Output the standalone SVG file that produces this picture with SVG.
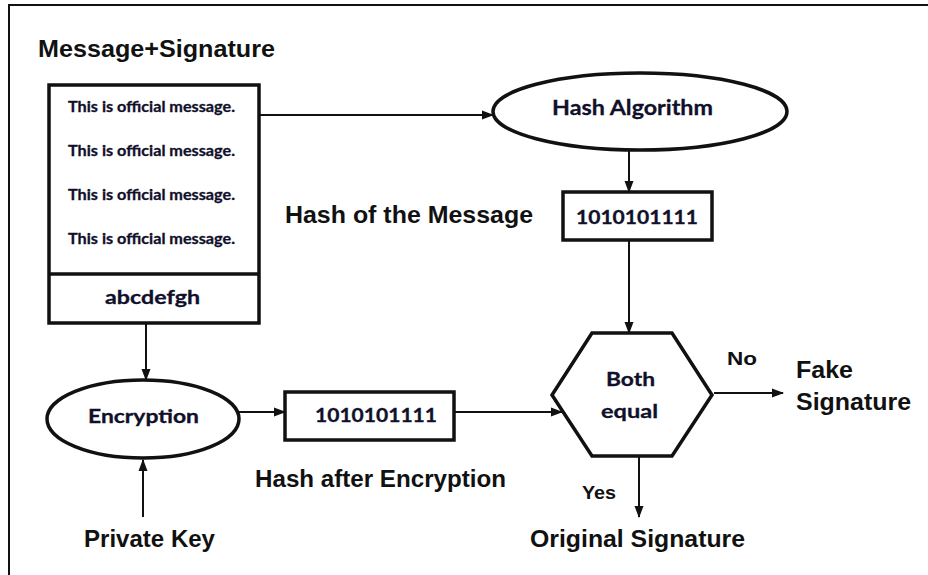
<svg xmlns="http://www.w3.org/2000/svg" width="928" height="575" viewBox="0 0 928 575">
  <style>
    .frame { fill: none; stroke: #111; stroke-width: 2; }
    .shape { fill: #fff; stroke: #111; stroke-width: 3.5; }
    .conn { fill: none; stroke: #111; stroke-width: 2; }
    .cal { font-family: Lato, "Open Sans", sans-serif; font-weight: bold; fill: #10102a; stroke: #10102a; stroke-width: 0.3; }
    .ari { font-family: "Liberation Sans", Arial, sans-serif; font-weight: bold; fill: #111; }
  </style>
  <defs>
    <marker id="arrow" markerUnits="userSpaceOnUse" markerWidth="12" markerHeight="10" refX="11" refY="5" orient="auto">
      <path d="M0,0.5 L12,5 L0,9.5 Z" fill="#111"/>
    </marker>
  </defs>

  <rect width="928" height="575" fill="#fff"/>
  <path class="frame" d="M9,575 V5 H928"/>

  <text class="ari" x="38" y="57" font-size="24" textLength="237" lengthAdjust="spacingAndGlyphs">Message+Signature</text>

  <g id="message">
    <rect class="shape" x="49" y="85" width="210" height="238"/>
    <line x1="49" y1="274" x2="259" y2="274" stroke="#111" stroke-width="3.5"/>
    <text class="cal" x="68" y="112" font-size="15" textLength="167" lengthAdjust="spacingAndGlyphs">This is official message.</text>
    <text class="cal" x="68" y="156" font-size="15" textLength="167" lengthAdjust="spacingAndGlyphs">This is official message.</text>
    <text class="cal" x="68" y="200" font-size="15" textLength="167" lengthAdjust="spacingAndGlyphs">This is official message.</text>
    <text class="cal" x="68" y="244" font-size="15" textLength="167" lengthAdjust="spacingAndGlyphs">This is official message.</text>
    <text class="cal" x="105" y="304" font-size="19" textLength="95" lengthAdjust="spacingAndGlyphs">abcdefgh</text>
  </g>

  <g id="hash-algorithm">
    <ellipse class="shape" cx="640" cy="111.5" rx="147" ry="38.5"/>
    <text class="cal" x="552" y="115" font-size="21" textLength="161" lengthAdjust="spacingAndGlyphs">Hash Algorithm</text>
  </g>

  <g id="hash-message">
    <rect class="shape" x="563" y="192" width="149" height="48"/>
    <text class="cal" x="576" y="224" font-size="18" textLength="122" lengthAdjust="spacingAndGlyphs">1010101111</text>
  </g>
  <text class="ari" x="285" y="223" font-size="24" textLength="248" lengthAdjust="spacingAndGlyphs">Hash of the Message</text>

  <g id="encryption">
    <ellipse class="shape" cx="143" cy="419" rx="96" ry="39"/>
    <text class="cal" x="88" y="423" font-size="18" textLength="111" lengthAdjust="spacingAndGlyphs">Encryption</text>
  </g>

  <g id="hash-encrypted">
    <rect class="shape" x="285" y="392" width="169" height="48"/>
    <text class="cal" x="315" y="422" font-size="18" textLength="122" lengthAdjust="spacingAndGlyphs">1010101111</text>
  </g>
  <text class="ari" x="255" y="487" font-size="23" textLength="251" lengthAdjust="spacingAndGlyphs">Hash after Encryption</text>

  <g id="private-key">
    <text class="ari" x="84" y="547" font-size="23" textLength="131" lengthAdjust="spacingAndGlyphs">Private Key</text>
  </g>

  <g id="compare">
    <polygon class="shape" points="592,333 672,333 712,395 672,456 592,456 552,395"/>
    <text class="cal" x="606" y="386" font-size="19" textLength="49" lengthAdjust="spacingAndGlyphs">Both</text>
    <text class="cal" x="601" y="418" font-size="19" textLength="57" lengthAdjust="spacingAndGlyphs">equal</text>
  </g>

  <g id="fake-signature">
    <text class="ari" x="796" y="378" font-size="23" textLength="57" lengthAdjust="spacingAndGlyphs">Fake</text>
    <text class="ari" x="796" y="410" font-size="23" textLength="115" lengthAdjust="spacingAndGlyphs">Signature</text>
  </g>

  <g id="original-signature">
    <text class="ari" x="530" y="547" font-size="23" textLength="215" lengthAdjust="spacingAndGlyphs">Original Signature</text>
  </g>

  <g id="connectors">
    <path class="conn" d="M259,115 H493" marker-end="url(#arrow)"/>
    <path class="conn" d="M629,150 V192" marker-end="url(#arrow)"/>
    <path class="conn" d="M629,240 V333" marker-end="url(#arrow)"/>
    <path class="conn" d="M146,323 V380" marker-end="url(#arrow)"/>
    <path class="conn" d="M237,412 H285" marker-end="url(#arrow)"/>
    <path class="conn" d="M454,412 H562" marker-end="url(#arrow)"/>
    <path class="conn" d="M143,517 V460" marker-end="url(#arrow)"/>
    <path class="conn" d="M714,393 H783" marker-end="url(#arrow)"/>
    <path class="conn" d="M639,456 V517" marker-end="url(#arrow)"/>
    <text class="ari" x="727" y="365" font-size="19" textLength="30" lengthAdjust="spacingAndGlyphs">No</text>
    <text class="ari" x="582" y="499" font-size="19" textLength="34" lengthAdjust="spacingAndGlyphs">Yes</text>
  </g>
</svg>
